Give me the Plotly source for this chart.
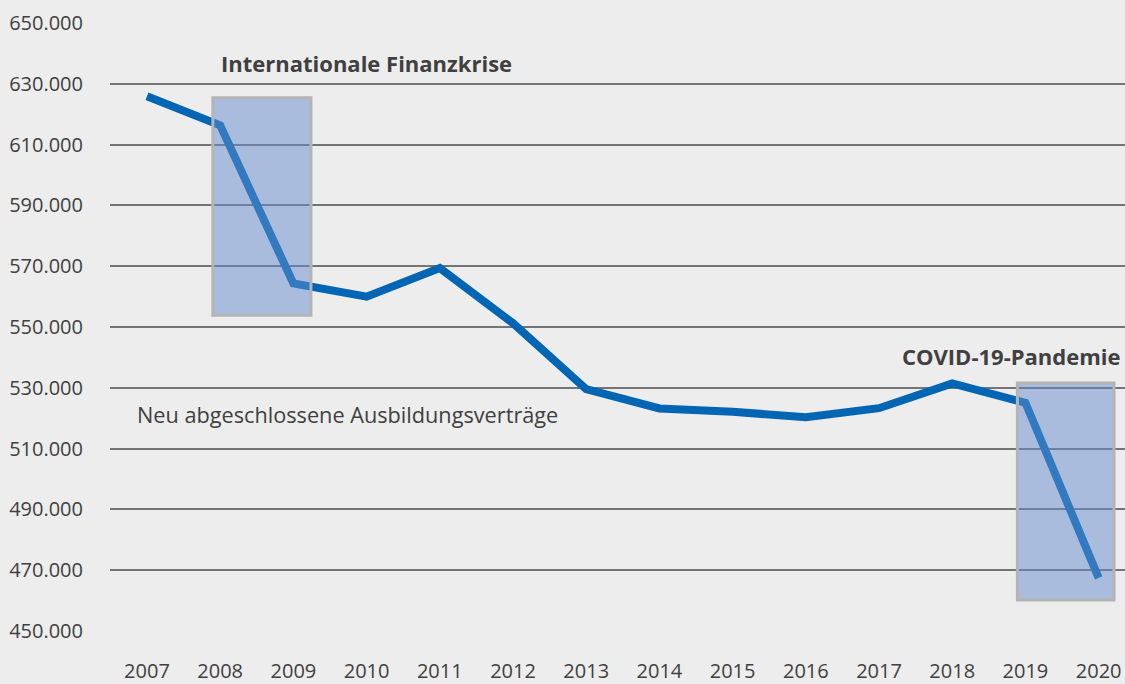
import plotly.graph_objects as go

years = list(range(2007, 2021))
contracts = [625885, 616342, 564307, 559960, 569380, 551259, 529542,
             523201, 522093, 520332, 523290, 531413, 525081, 467484]
y_ticks = [450000, 470000, 490000, 510000, 530000, 550000, 570000, 590000, 610000, 630000, 650000]

# highlight periods (x0, x1, y0, y1)
crisis_box = (2007.9, 2009.24, 553900, 625400)
covid_box = (2018.89, 2020.21, 460200, 531600)

text_color = "#404040"
font_family = "Open Sans, Noto Sans, sans-serif"

fig = go.Figure()
for (x0, x1, y0, y1) in (crisis_box, covid_box):
    fig.add_shape(type="rect", xref="x", yref="y", x0=x0, x1=x1, y0=y0, y1=y1,
                  fillcolor="rgba(101,139,205,0.5)",
                  line=dict(color="#b4b4b4", width=3), layer="above")

fig.add_trace(go.Scatter(x=years, y=contracts, mode="lines",
                         line=dict(color="#0066b3", width=8),
                         hoverinfo="x+y", showlegend=False))

fig.add_annotation(x=2007.98, y=636800, text="<b>Internationale Finanzkrise</b>",
                   showarrow=False, xanchor="left", yanchor="middle",
                   font=dict(size=22, color=text_color, family=font_family))
fig.add_annotation(x=2017.28, y=540490, text="<b>COVID-19-Pandemie</b>",
                   showarrow=False, xanchor="left", yanchor="middle",
                   font=dict(size=22, color=text_color, family=font_family))
fig.add_annotation(x=2006.83, y=521150, text="Neu abgeschlossene Ausbildungsverträge",
                   showarrow=False, xanchor="left", yanchor="middle",
                   font=dict(size=21.7, color=text_color, family=font_family))

fig.update_layout(
    width=1125, height=684,
    margin=dict(l=110, r=0, t=23, b=51),
    paper_bgcolor="#ededed", plot_bgcolor="#ededed",
    separators=",.",
    font=dict(family=font_family, color=text_color, size=18),
)
fig.update_xaxes(range=[2006.495, 2020.36], tickvals=years, ticktext=[str(y) for y in years],
                 showgrid=False, zeroline=False, showline=False,
                 ticks="outside", ticklen=22, tickcolor="rgba(0,0,0,0)",
                 tickfont=dict(size=20, color=text_color))
fig.update_yaxes(range=[450000, 650000], tickvals=y_ticks, tickformat=",d",
                 showgrid=True, gridcolor="#747474", gridwidth=1.5,
                 zeroline=False, showline=False,
                 ticks="outside", ticklen=22, tickcolor="rgba(0,0,0,0)",
                 tickfont=dict(size=20, color=text_color))

fig.write_html("out.html", config={"displayModeBar": False},
               post_script="document.body.style.margin='0';document.body.style.overflow='hidden';")
